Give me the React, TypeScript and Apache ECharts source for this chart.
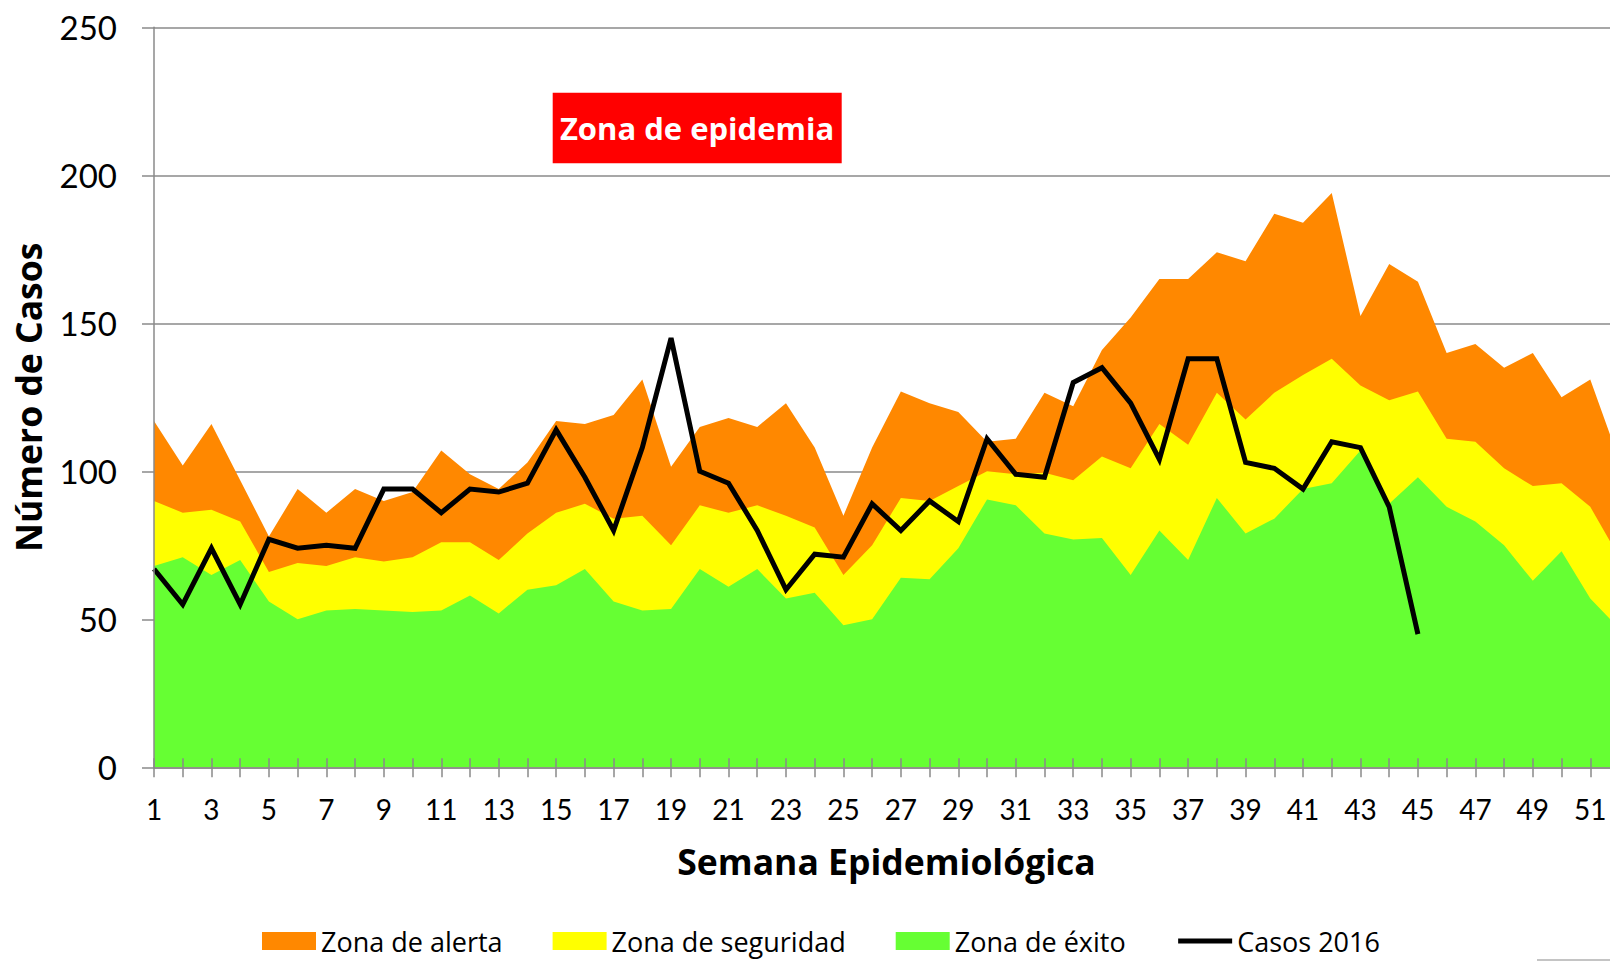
import React, { useEffect, useRef } from "react";
import * as echarts from "echarts";

const weeks = [
  "1", "2", "3", "4", "5", "6", "7", "8", "9", "10", "11", "12", "13",
  "14", "15", "16", "17", "18", "19", "20", "21", "22", "23", "24", "25", "26",
  "27", "28", "29", "30", "31", "32", "33", "34", "35", "36", "37", "38", "39",
  "40", "41", "42", "43", "44", "45", "46", "47", "48", "49", "50", "51", "52",
];

// Upper limit of each zone
const zonaAlerta = [
  117, 102, 116, 97, 78, 94, 86, 94, 90, 93, 107, 99, 94,
  103, 117, 116, 119, 131, 101.5, 115, 118, 115, 123, 108, 85, 108,
  127, 123, 120, 110, 111, 126.5, 122, 141, 152, 165, 165, 174, 171,
  187, 184, 194, 152.5, 170, 164, 140, 143, 135, 140, 125, 131, 104,
];
const zonaSeguridad = [
  90, 86, 87, 83, 66, 69, 68, 71, 69.5, 71, 76, 76, 70,
  79, 86, 89, 84, 85, 75, 88.5, 86, 88.5, 85, 81, 65, 75,
  91, 90, 95, 100, 99, 99.5, 97, 105, 101, 116, 109, 126.5, 117.5,
  126.5, 132.5, 138, 129, 124, 127, 111, 110, 101, 95, 96, 88, 71,
];
const zonaExito = [
  68, 71, 65, 70, 56, 50, 53, 53.5, 53, 52.5, 53, 58, 52,
  60, 61.5, 67, 56, 53, 53.5, 67, 61, 67, 57, 59, 48, 50,
  64, 63.5, 74, 90.5, 88.5, 79, 77, 77.5, 65, 80, 70, 91, 79,
  84, 94, 96, 107, 89, 98, 88, 83, 75, 63, 73, 57, 47,
];
const casos2016 = [
  67, 55, 74, 55, 77, 74, 75, 74, 94, 94, 86, 94, 93,
  96, 114, 98, 80, 108, 145, 100, 96, 80, 60, 72, 71, 89,
  80, 90, 83, 111, 99, 98, 130, 135, 123, 104, 138, 138, 103,
  101, 94, 110, 108, 88, 45,
];

const FONT = "Lato";
const FONT2 = "Open Sans";
const GRAY = "#8a8a8a";

export default function App() {
  const ref = useRef<HTMLDivElement>(null);

  useEffect(() => {
    if (!ref.current) return;
    const chart = echarts.init(ref.current, undefined, { renderer: "svg" });
    const area = (name: string, data: number[], color: string) => ({
      name,
      type: "line",
      data,
      xAxisIndex: 0,
      yAxisIndex: 0,
      symbol: "none",
      showSymbol: false,
      lineStyle: { width: 0, color },
      itemStyle: { color },
      areaStyle: { color, opacity: 1 },
      emphasis: { disabled: true },
    });
    chart.setOption({
      animation: false,
      textStyle: { fontFamily: FONT },
      grid: { left: 154, top: 27.3, right: -9, bottom: 193.7, outerBoundsMode: "none", containLabel: false },
      legend: {
        left: 257,
        top: 921,
        itemWidth: 54,
        itemHeight: 18,
        itemGap: 50,
        selectedMode: false,
        textStyle: { fontSize: 27, lineHeight: 30, color: "#000", fontFamily: FONT2 },
        data: [
          { name: "Zona de alerta", icon: "rect" },
          { name: "Zona de seguridad", icon: "rect" },
          { name: "Zona de éxito", icon: "rect" },
          {
            name: "Casos 2016",
            lineStyle: { width: 5, color: "#000" },
            itemStyle: { color: "transparent", borderColor: "transparent", borderWidth: 0 },
          },
        ],
      },
      xAxis: [
        {
          type: "category",
          data: weeks,
          boundaryGap: false,
          position: "bottom",
          z: 10,
          axisLine: { show: true, lineStyle: { color: GRAY, width: 1.5 } },
          axisTick: { show: true, interval: 0, length: 10, lineStyle: { color: GRAY, width: 1.5 } },
          axisLabel: { interval: 1, margin: 28, fontSize: 28, color: "#000", fontFamily: FONT },
          splitLine: { show: false },
          name: "Semana Epidemiológica",
          nameLocation: "middle",
          nameGap: 76,
          nameTextStyle: { fontSize: 35.5, fontWeight: "bold", color: "#000", fontFamily: FONT2 },
        },
        {
          type: "category",
          data: weeks,
          boundaryGap: false,
          position: "bottom",
          z: 10,
          axisLine: { show: false },
          axisTick: { show: true, inside: true, interval: 0, length: 9, lineStyle: { color: GRAY, width: 1.5 } },
          axisLabel: { show: false },
          splitLine: { show: false },
        },
      ],
      yAxis: [
        {
          type: "value",
          position: "left",
          min: 0,
          max: 250,
          interval: 50,
          z: 0,
          axisLine: { show: false },
          axisTick: { show: false },
          axisLabel: { show: false },
          splitLine: { show: true, lineStyle: { color: GRAY, width: 1.5 } },
        },
        {
          type: "value",
          position: "left",
          min: 0,
          max: 250,
          interval: 50,
          z: 10,
          axisLine: { show: true, lineStyle: { color: GRAY, width: 1.5 } },
          axisTick: { show: true, length: 12, lineStyle: { color: GRAY, width: 1.5 } },
          axisLabel: { margin: 37, fontSize: 33, color: "#000", fontFamily: FONT },
          splitLine: { show: false },
          name: "Número de Casos",
          nameLocation: "middle",
          nameRotate: 90,
          nameGap: 108,
          nameTextStyle: { fontSize: 35.5, fontWeight: "bold", color: "#000", fontFamily: FONT2 },
        },
      ],
      series: [
        area("Zona de alerta", zonaAlerta, "#FF8800"),
        area("Zona de seguridad", zonaSeguridad, "#FFFF00"),
        area("Zona de éxito", zonaExito, "#66FF33"),
        {
          name: "Casos 2016",
          type: "line",
          data: casos2016,
          xAxisIndex: 0,
          yAxisIndex: 0,
          symbol: "none",
          showSymbol: false,
          lineStyle: { width: 5, color: "#000", join: "miter" },
          itemStyle: { color: "#000" },
          emphasis: { disabled: true },
          z: 3,
        },
      ],
      graphic: [
        {
          type: "rect",
          shape: { x: 552.7, y: 92.7, width: 289, height: 70.6 },
          style: { fill: "#FF0000" },
          z: 100,
        },
        {
          type: "text",
          x: 697,
          y: 128,
          style: {
            text: "Zona de epidemia",
            fill: "#fff",
            fontSize: 31,
            fontWeight: "bold",
            fontFamily: FONT2,
            align: "center",
            verticalAlign: "middle",
          },
          z: 101,
        },
        {
          type: "line",
          shape: { x1: 1537, y1: 960, x2: 1610, y2: 960 },
          style: { stroke: "#b0b0b0", lineWidth: 1.5 },
          z: 100,
        },
      ],
    });
    return () => chart.dispose();
  }, []);

  return (
    <div
      ref={ref}
      style={{ position: "absolute", left: 0, top: 0, width: 1610, height: 961, background: "#fff" }}
    />
  );
}
